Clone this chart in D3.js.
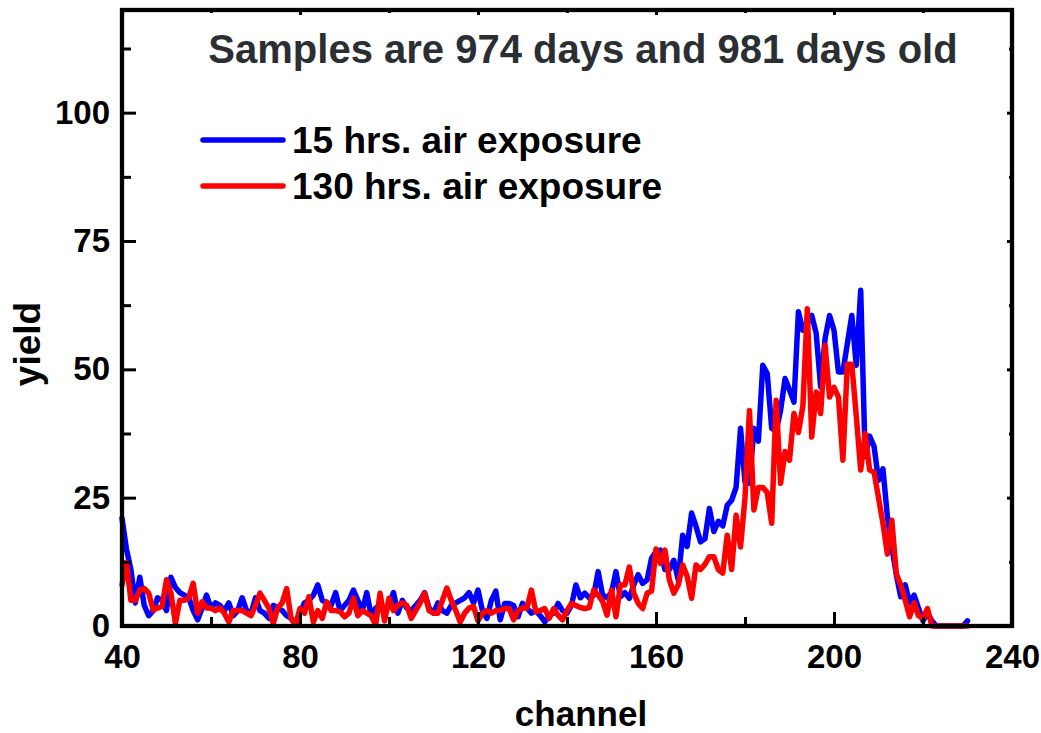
<!DOCTYPE html>
<html>
<head>
<meta charset="utf-8">
<script src="https://cdn.jsdelivr.net/npm/d3@7"></script>
<style>
  html, body { margin: 0; padding: 0; background: #fff; }
  svg { display: block; }
  text { font-family: "Liberation Sans", Arial, sans-serif; font-weight: bold; }
</style>
</head>
<body>
<svg id="chart" width="1041" height="733"></svg>
<script>
// ---------- data ----------
const titleText = "Samples are 974 days and 981 days old";
const xLabel = "channel";
const yLabel = "yield";
const seriesNames = ["15 hrs. air exposure", "130 hrs. air exposure"];
const seriesColors = ["#0000ff", "#ff0000"];
const firstChannel = 40;
const xTickLabels = [40, 80, 120, 160, 200, 240];
const xMinorTicks = [60, 100, 140, 180, 220];
const yTickLabels = [0, 25, 50, 75, 100];
const yMinorTicks = [12.5, 37.5, 62.5, 87.5, 112.5];

// channels 40..230, one value per channel
const blue15 = [
  21, 15, 11, 4.5, 9.5, 4, 2, 3, 5.5, 5,           // 40-49
  3, 9.5, 7.5, 6.5, 6, 5.5, 3, 1.2, 3.5, 6,         // 50-59
  3.5, 4.5, 4, 3, 4.5, 2, 3, 5.5, 3, 2.5,           // 60-69
  5.5, 3, 2.5, 1.5, 4, 3.5, 3, 2, 1.5, 0.2,         // 70-79
  2.5, 4.5, 5, 6, 8, 5, 4.5, 4, 6.5, 3,             // 80-89
  4, 5, 7, 5, 3, 6.5, 2, 3.5, 4, 2.5,               // 90-99
  4, 6.5, 2.5, 5, 3.5, 3, 4, 5, 6.5, 3.5,           // 100-109
  2.5, 4.5, 3, 2.5, 4, 4.5, 5, 5.5, 6.5, 4.5,       // 110-119
  7, 3, 1.5, 5, 6.8, 1.2, 4.4, 4.4, 4, 1.8,         // 120-129
  4.4, 3.5, 2.5, 3, 2, 0.8, 2, 2.5, 4.4, 3,         // 130-139
  2.5, 4, 8, 5.5, 6.4, 5.5, 6, 10.6, 6, 5.5,        // 140-149
  6.5, 10.6, 5.7, 6.5, 5.4, 8, 10, 8.3, 9, 13.2,    // 150-159
  14.5, 14.8, 11, 11, 12.8, 9, 17.7, 15.5, 22, 19.4, // 160-169
  16.4, 17, 22.9, 18.4, 20.4, 19.5, 23.5, 24.5, 27, 38.5, // 170-179
  28, 27.8, 38.5, 36, 50.8, 49.2, 38.5, 38, 42, 48.2,     // 180-189
  46, 43.6, 61.2, 57.6, 59, 60.5, 57, 46.6, 56, 60.5,     // 190-199
  57.6, 49.5, 49.5, 55, 60.5, 50.8, 65.4, 33, 37, 35,     // 200-209
  28.4, 30.6, 21.3, 15.4, 10, 5.7, 8, 4.5, 6, 3.5,        // 210-219
  1, 2.5, 1, 0, 0, 0, 0, 0, 0, 0,                          // 220-229
  1                                                        // 230
];
const red130 = [
  8, 12.4, 5, 5, 7, 7.3, 6.4, 3.1, 3.5, 3.8,        // 40-49
  9, 6.4, 0.5, 5, 5, 5.5, 8.3, 2.5, 4.7, 3.5,       // 50-59
  3.5, 3, 3.5, 2.5, 0.8, 3, 3, 3, 2.5, 2,           // 60-69
  4, 6.4, 5, 3.5, 0.5, 3.5, 4.5, 7.3, 1.5, 0.3,     // 70-79
  3.4, 2.5, 5.7, 0.8, 3, 1.5, 4.7, 3, 3, 2.8,       // 80-89
  1.8, 2.5, 5.4, 2, 3, 2.5, 2, 0.2, 6.4, 1,         // 90-99
  5.4, 3, 4, 4.5, 4, 1.5, 3, 4.5, 6.4, 3,           // 100-109
  2.5, 2.5, 5, 7.4, 5, 3, 0.8, 2.5, 3.5, 3.8,       // 110-119
  1, 2.5, 3, 2.5, 3, 3, 3.4, 3.4, 1.2, 3,           // 120-129
  3.5, 3.5, 7, 2.8, 3, 3.4, 1.5, 3.4, 2.1, 1.2,     // 130-139
  3, 4.4, 4, 3.6, 3.4, 3.6, 7, 6, 4.8, 2.1,         // 140-149
  7, 1.8, 8, 8, 11.5, 6.4, 4.4, 3.4, 6.4, 6.8,      // 150-159
  15, 12.2, 14.8, 9, 6.4, 8, 11.9, 9.7, 5.4, 11.9,  // 160-169
  11, 12, 13.5, 13.5, 11, 10.3, 17.7, 11, 21.6, 15.4, // 170-179
  25, 42, 22.6, 27, 27, 26, 20, 44, 27.8, 34,         // 180-189
  32.3, 41.4, 37.7, 42.8, 61.8, 36.8, 45.6, 41.4, 54.7, 44.6, // 190-199
  46.5, 44.6, 32.3, 51, 51, 41, 30.4, 37.5, 30.4, 30,         // 200-209
  25, 20, 14, 20.6, 10.2, 8, 5, 1.8, 4.5, 2,                  // 210-219
  1.5, 3.4, 0, 0, 0, 0, 0, 0, 0, 0,                            // 220-229
  0                                                            // 230
];
const allSeries = [blue15, red130];

// ---------- layout ----------
const svg = d3.select("#chart");
const plot = { left: 122, right: 1012, top: 10, bottom: 626 };

const x = d3.scaleLinear().domain([40, 240]).range([plot.left, plot.right]);
const y = d3.scaleLinear().domain([0, 120]).range([plot.bottom, plot.top]);

// ---------- series lines (drawn first, frame on top) ----------
const line = d3.line()
  .x((d, i) => x(firstChannel + i))
  .y(d => y(d));

allSeries.forEach((s, k) => {
  svg.append("path")
    .datum(s)
    .attr("d", line)
    .attr("fill", "none")
    .attr("stroke", seriesColors[k])
    .attr("stroke-width", 5.5)
    .attr("stroke-linejoin", "round")
    .attr("stroke-linecap", "round");
});

// ---------- axes ----------
const axisStroke = 4.3;
const majorLen = 14, minorLen = 9, farMajor = 5, farMinor = 3;

function styleAxis(g) {
  g.select(".domain").remove();
  g.selectAll(".tick line").attr("stroke", "#000").attr("stroke-width", 3);
  g.selectAll(".tick text")
    .attr("fill", "#000")
    .style("font-size", "33px")
    .style("font-family", "'Liberation Sans', Arial, sans-serif")
    .style("font-weight", "bold");
}

// bottom axis major (labels)
svg.append("g")
  .attr("transform", `translate(0,${plot.bottom})`)
  .call(d3.axisBottom(x).tickValues(xTickLabels).tickFormat(d3.format("d"))
    .tickSizeInner(-majorLen).tickSizeOuter(0).tickPadding(19))
  .call(styleAxis);
// bottom minor
svg.append("g")
  .attr("transform", `translate(0,${plot.bottom})`)
  .call(d3.axisBottom(x).tickValues(xMinorTicks).tickFormat("")
    .tickSizeInner(-minorLen).tickSizeOuter(0))
  .call(styleAxis);
// top axis ticks
svg.append("g")
  .attr("transform", `translate(0,${plot.top})`)
  .call(d3.axisTop(x).tickValues(xTickLabels).tickFormat("")
    .tickSizeInner(-farMajor).tickSizeOuter(0))
  .call(styleAxis);
svg.append("g")
  .attr("transform", `translate(0,${plot.top})`)
  .call(d3.axisTop(x).tickValues(xMinorTicks).tickFormat("")
    .tickSizeInner(-farMinor).tickSizeOuter(0))
  .call(styleAxis);

// left axis major
svg.append("g")
  .attr("transform", `translate(${plot.left},0)`)
  .call(d3.axisLeft(y).tickValues(yTickLabels).tickFormat(d3.format("d"))
    .tickSizeInner(-majorLen).tickSizeOuter(0).tickPadding(12))
  .call(styleAxis);
svg.append("g")
  .attr("transform", `translate(${plot.left},0)`)
  .call(d3.axisLeft(y).tickValues(yMinorTicks).tickFormat("")
    .tickSizeInner(-minorLen).tickSizeOuter(0))
  .call(styleAxis);
// right axis ticks
svg.append("g")
  .attr("transform", `translate(${plot.right},0)`)
  .call(d3.axisRight(y).tickValues(yTickLabels).tickFormat("")
    .tickSizeInner(-farMajor).tickSizeOuter(0))
  .call(styleAxis);
svg.append("g")
  .attr("transform", `translate(${plot.right},0)`)
  .call(d3.axisRight(y).tickValues(yMinorTicks).tickFormat("")
    .tickSizeInner(-farMinor).tickSizeOuter(0))
  .call(styleAxis);

// frame
svg.append("rect")
  .attr("x", plot.left).attr("y", plot.top)
  .attr("width", plot.right - plot.left).attr("height", plot.bottom - plot.top)
  .attr("fill", "none").attr("stroke", "#000").attr("stroke-width", axisStroke);

// ---------- texts ----------
svg.append("text")
  .attr("x", 583).attr("y", 63)
  .attr("text-anchor", "middle")
  .attr("fill", "#2b2f33")
  .style("font-size", "40px")
  .text(titleText);

svg.append("text")
  .attr("x", 581).attr("y", 726)
  .attr("text-anchor", "middle")
  .attr("fill", "#000")
  .style("font-size", "35px")
  .text(xLabel);

svg.append("text")
  .attr("transform", "translate(40,344) rotate(-90)")
  .attr("text-anchor", "middle")
  .attr("fill", "#000")
  .style("font-size", "37px")
  .text(yLabel);

// ---------- legend ----------
const legendY = [140, 186];
seriesNames.forEach((name, k) => {
  svg.append("line")
    .attr("x1", 203).attr("x2", 283)
    .attr("y1", legendY[k]).attr("y2", legendY[k])
    .attr("stroke", seriesColors[k])
    .attr("stroke-width", 5.5)
    .attr("stroke-linecap", "round");
  svg.append("text")
    .attr("x", 292).attr("y", legendY[k] + 13)
    .attr("fill", "#000")
    .style("font-size", "37px")
    .text(name);
});
</script>
</body>
</html>
